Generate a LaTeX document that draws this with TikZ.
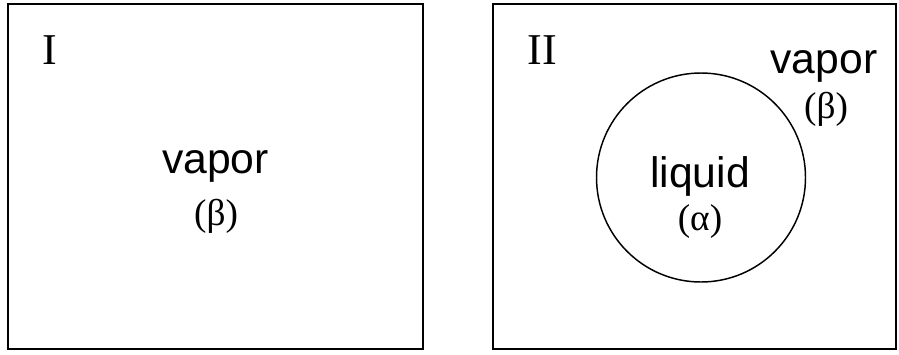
\documentclass[tikz,border=0pt]{standalone}
\usepackage{fontspec}
\setmainfont{Liberation Serif}
\newfontfamily\arialfont{Liberation Sans}
\begin{document}
\begin{tikzpicture}[x=0.75pt,y=-0.75pt,
  box/.style={draw=black,line width=1.5pt},
  sanslbl/.style={font=\arialfont\fontsize{32}{36}\selectfont,inner sep=0pt,anchor=base},
  greeklbl/.style={font=\fontsize{28}{30}\selectfont,inner sep=0pt,anchor=center},
  romanlbl/.style={font=\fontsize{33}{36}\selectfont,inner sep=0pt,anchor=center}]
\useasboundingbox (0,0) rectangle (899,354);
\node[box,minimum width=414.5*0.75pt,minimum height=345*0.75pt,inner sep=0pt] (boxI) at (215.5,176.5) {};
\node[box,minimum width=403*0.75pt,minimum height=345*0.75pt,inner sep=0pt] (boxII) at (694.5,176.5) {};
\node[draw=black,line width=1.1pt,circle,minimum size=209*0.75pt,inner sep=0pt] (drop) at (701,177.5) {};
\node[romanlbl] (lblI) at (50,50) {I};
\node[romanlbl] (lblII) at (542,50) {II};
\node[sanslbl] (vapI) at (215.5,173) {vapor};
\node[greeklbl] (betaI) at (216,216) {(β)};
\node[sanslbl] (vapII) at (824,73) {vapor};
\node[greeklbl] (betaII) at (826,109) {(β)};
\node[sanslbl] (liq) at (700,187) {liquid};
\node[greeklbl] (alpha) at (700,222) {(α)};
\end{tikzpicture}
\end{document}
